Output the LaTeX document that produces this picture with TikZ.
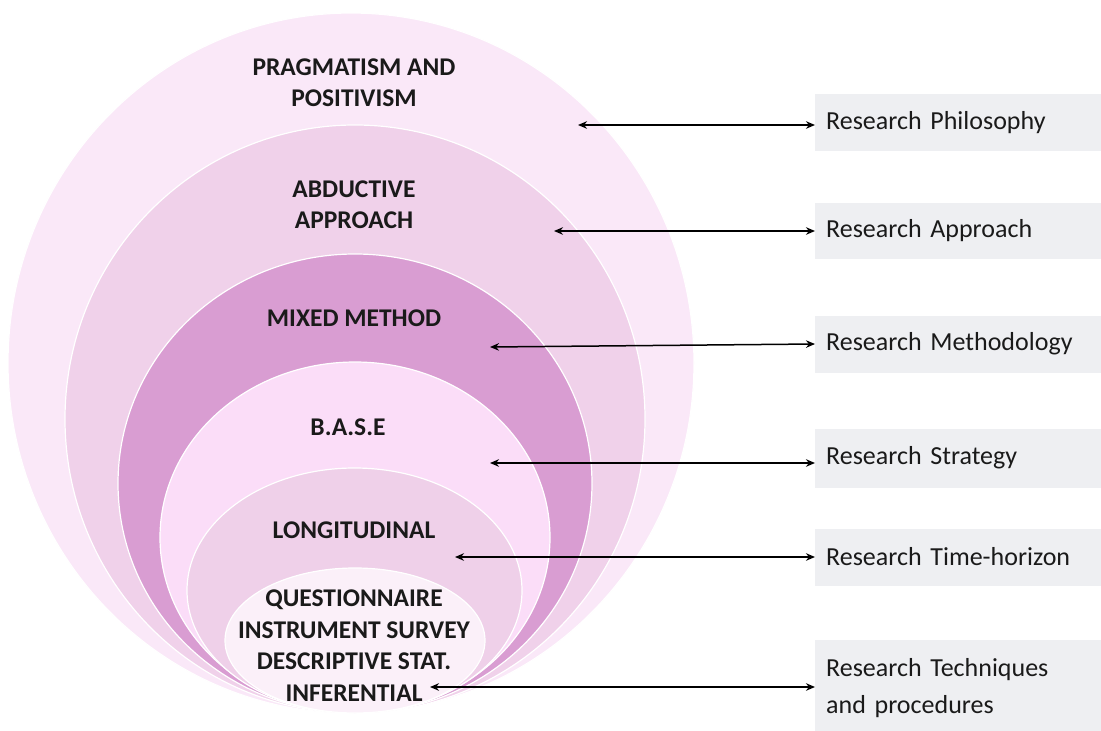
\documentclass[tikz,border=0pt]{standalone}
\usepackage{fontspec}
\setmainfont{Carlito}
\usetikzlibrary{arrows.meta}
\definecolor{cOuter}{HTML}{FAE8F8}
\definecolor{cAbd}{HTML}{F0D1EA}
\definecolor{cMix}{HTML}{D99DD2}
\definecolor{cBase}{HTML}{FBDDF8}
\definecolor{cLong}{HTML}{EFD0E9}
\definecolor{cQuest}{HTML}{FBF0F9}
\definecolor{boxgray}{HTML}{EEEFF2}
\definecolor{ink}{HTML}{1A1A1A}
\begin{document}
\begin{tikzpicture}[x=1pt,y=-1pt,
  layer/.style={draw=white,line width=1.2pt},
  onion/.style={align=center,text=ink,inner sep=0pt,font=\bfseries\fontsize{25.5}{31.5}\selectfont},
  rbox/.style={fill=boxgray,anchor=west,minimum width=286pt,text width=264pt,align=left,inner xsep=11pt,inner ysep=0pt,text=ink,font=\fontsize{26}{37}\selectfont},
  link/.style={{Stealth[length=9pt,width=7.5pt]}-{Stealth[length=9pt,width=7.5pt]},line width=1.5pt,black}]
\useasboundingbox (0,0) rectangle (1101,731);
\fill[white] (0,0) rectangle (1101,731);
% onion layers
\path[layer,fill=cOuter] (351,363) ellipse [x radius=343pt, y radius=350pt];
\path[layer,fill=cAbd] (355,419) ellipse [x radius=290pt, y radius=294pt];
\path[layer,fill=cMix] (355,483.5) ellipse [x radius=237pt, y radius=229.5pt];
\path[layer,fill=cBase] (355,537.5) ellipse [x radius=195pt, y radius=175.5pt];
\path[layer,fill=cLong] (354.5,590.5) ellipse [x radius=167.5pt, y radius=122.5pt];
\path[layer,fill=cQuest] (355,640.5) ellipse [x radius=130pt, y radius=72.5pt];
% onion labels
\node[onion] (l1) at (354,82.5) {PRAGMATISM AND\\POSITIVISM};
\node[onion] (l2) at (354,204.5) {ABDUCTIVE\\APPROACH};
\node[onion] (l3) at (354,318) {MIXED METHOD};
\node[onion] (l4) at (348,427) {B.A.S.E};
\node[onion] (l5) at (354,530) {LONGITUDINAL};
\node[onion] (l6) at (354,645.5) {QUESTIONNAIRE\\INSTRUMENT SURVEY\\DESCRIPTIVE STAT.\\INFERENTIAL};
% right boxes
\node[rbox,minimum height=57pt] (b1) at (815,122.5) {Research Philosophy};
\node[rbox,minimum height=56pt] (b2) at (815,230.5) {Research Approach};
\node[rbox,minimum height=57pt] (b3) at (815,344) {Research Methodology};
\node[rbox,minimum height=59pt] (b4) at (815,458) {Research Strategy};
\node[rbox,minimum height=57pt] (b5) at (815,557) {Research Time-horizon};
\node[rbox,minimum height=96pt] (b6) at (815,688) {Research Techniques\\and procedures};
% arrow anchors inside the onion
\coordinate (p1) at (578,125);
\coordinate (p2) at (554,231);
\coordinate (p3) at (490,347);
\coordinate (p4) at (490,463);
\coordinate (p5) at (455,557);
\coordinate (p6) at (430,687);
\draw[link] (p1) -- (p1 -| b1.west);
\draw[link] (p2) -- (p2 -| b2.west);
\draw[link] (p3) -- (b3.west);
\draw[link] (p4) -- (p4 -| b4.west);
\draw[link] (p5) -- (p5 -| b5.west);
\draw[link] (p6) -- (p6 -| b6.west);
\end{tikzpicture}
\end{document}
